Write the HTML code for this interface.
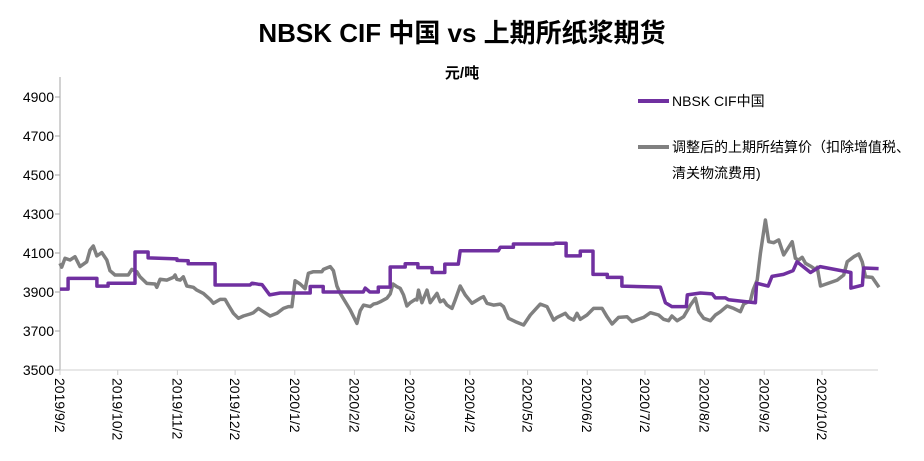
<!DOCTYPE html>
<html><head><meta charset="utf-8">
<style>
html,body{margin:0;padding:0;background:#fff;}
body{width:924px;height:456px;overflow:hidden;font-family:"Liberation Sans","Noto Sans CJK SC",sans-serif;}
svg text{font-family:"Liberation Sans","Noto Sans CJK SC",sans-serif;}
</style></head>
<body>
<svg id="chart" width="924" height="456" xmlns="http://www.w3.org/2000/svg">
<text x="462" y="42" text-anchor="middle" font-size="26" font-weight="bold" fill="#000">NBSK CIF 中国 vs 上期所纸浆期货</text>
<text x="462" y="78" text-anchor="middle" font-size="15" font-weight="bold" fill="#000">元/吨</text>
<g id="axes"></g>
<g id="series"></g>
<g>
<line x1="638" y1="101" x2="669" y2="101" stroke="#7030A0" stroke-width="4"/>
<text x="672" y="106" font-size="14" fill="#000">NBSK CIF中国</text>
<line x1="638" y1="147" x2="669" y2="147" stroke="#808080" stroke-width="4"/>
<text x="672" y="152" font-size="14" fill="#000">调整后的上期所结算价（扣除增值税、</text>
<text x="672" y="178" font-size="14" fill="#000">清关物流费用)</text>
</g>
</svg>
<script>
// Days since 2019/9/2
const nbskDays=[0,4.2,4.2,19.2,19.2,25,25,39,39,45.8,45.8,60.8,60.8,66.6,66.6,80.6,80.6,98.8,99.8,103,105,109,114.4,130,130,136.8,136.8,157.6,158.6,161,165.4,165.4,171.6,171.6,179.4,179.4,186,186,193.4,193.4,200,200,207,208,227.8,228.8,235.6,235.6,256.4,257.4,263,263,270.4,270.4,277,277,284.4,284.4,292,292,312,314.6,318,325.5,326,332.8,339,340.6,345.8,347.4,361.4,362,368,370,376,381,383,390,395,411,411,417,417.6,425.4];
const nbskValues=[3915,3915,3970,3970,3930,3930,3945,3945,4105,4105,4075,4070,4062,4060,4045,4045,3936,3936,3945,3940,3938,3885,3895,3895,3928,3928,3900,3900,3920,3900,3900,3925,3925,4028,4028,4045,4045,4025,4025,4000,4000,4043,4043,4112,4112,4130,4130,4146,4146,4150,4150,4085,4085,4110,4110,3990,3990,3975,3975,3930,3925,3845,3825,3825,3885,3895,3890,3870,3870,3860,3845,3945,3930,3980,3990,4010,4055,4000,4030,4000,3920,3935,4023,4020];
const shfeDays=[0,0.9,2.6,5.2,7.8,10.4,13.9,15.6,17.3,19.1,21.7,24.3,26,28.6,35.5,37.3,39.9,41.6,45.1,49.4,50.3,52,55.5,58.9,59.8,60.7,62.4,64.1,65.9,69.3,71.1,74.5,78,79.7,83.2,85.8,87.5,90.1,92.7,95.3,98.8,100.5,103.1,105.7,109.2,112.7,116.1,118.7,120.5,122.2,124.8,127.4,129.1,131.7,136.1,136.9,140.4,142.1,143.9,145.6,150.8,154.3,156,157.7,161.2,162.9,164.7,166.4,169.9,171.6,173,175.1,176.8,178.5,180.3,182,184.6,185.5,186.3,188.1,190.7,192.4,194.1,195.9,197.6,199.3,201.1,203.7,205.4,208,210.6,214.1,218.4,220.1,221.9,225.3,228.8,230.5,233.1,236.6,240.9,244.4,249.6,253.1,254.8,256.5,258.3,262.6,264.3,266.9,268.7,270.4,273.9,277.3,281.7,284.3,286.9,290.3,294.7,297.3,303.3,306.8,311.1,313.7,316.3,318,320.7,324.1,327.6,330.2,331.9,334.5,338,340.6,343.2,346.7,350.1,353.6,355.3,358.8,360.2,362.3,364,366.6,368.3,370.9,373.5,376.1,380.5,382.2,383.9,385.7,387.4,390,392.6,393.5,395.2,403.9,407.3,409.1,412.5,415.1,416.9,418.6,422.1,425.6];
const shfeValues=[4047,4027,4073,4064,4081,4030,4055,4115,4136,4085,4102,4064,4009,3987,3987,4016,4004,3978,3944,3941,3924,3965,3961,3975,3987,3965,3961,3978,3931,3924,3910,3893,3862,3842,3862,3862,3833,3791,3765,3777,3787,3794,3816,3799,3777,3791,3816,3825,3825,3958,3941,3917,3996,4004,4004,4016,4030,4009,3931,3893,3808,3739,3804,3833,3825,3838,3842,3850,3868,3890,3941,3927,3919,3885,3828,3845,3862,3859,3910,3845,3910,3845,3868,3893,3850,3859,3833,3816,3859,3931,3885,3842,3868,3876,3842,3833,3838,3825,3765,3748,3731,3782,3838,3825,3791,3756,3770,3791,3770,3756,3791,3760,3782,3816,3816,3773,3736,3770,3773,3748,3770,3794,3782,3760,3753,3777,3753,3773,3833,3868,3799,3765,3753,3782,3799,3828,3816,3799,3838,3855,3910,3961,4098,4269,4158,4153,4167,4090,4158,4073,4064,4078,4047,4033,4016,4027,3931,3961,3987,4055,4081,4095,4055,3978,3975,3924];
const yTicks=[3500,3700,3900,4100,4300,4500,4700,4900];
const xTickLabels=["2019/9/2","2019/10/2","2019/11/2","2019/12/2","2020/1/2","2020/2/2","2020/3/2","2020/4/2","2020/5/2","2020/6/2","2020/7/2","2020/8/2","2020/9/2","2020/10/2"];
const xTickDays=[0,30,61,91,122,153,182,213,243,274,304,335,366,396];

const X0=60,X1=878,DAYMAX=425.4,Y0=370,Y1=97,VMIN=3500,VMAX=4900;
const xs=d=>X0+d*(822-60)/396;
const ys=v=>Y0-(v-VMIN)*(Y0-Y1)/(VMAX-VMIN);
const NS="http://www.w3.org/2000/svg";
const axes=document.getElementById('axes'), series=document.getElementById('series');
function mk(tag,attrs,parent){const e=document.createElementNS(NS,tag);for(const k in attrs)e.setAttribute(k,attrs[k]);parent.appendChild(e);return e;}

let yl=mk('line',{x1:X0,y1:77,x2:X0,y2:Y0,stroke:'#a6a6a6','stroke-width':1},axes);


let xl=mk('line',{x1:X0,y1:Y0,x2:X1,y2:Y0,stroke:'#d0d0d0','stroke-width':1},axes);



yTicks.forEach(v=>{
  const y=ys(v);
  const t=mk('line',{x1:X0-5,y1:y,x2:X0,y2:y,stroke:'#a6a6a6'},axes);
  
  
  const tx=mk('text',{x:X0-6,y:y+5,'text-anchor':'end','font-size':14,fill:'#000'},axes);
  tx.textContent=v;
  
  
});
xTickDays.forEach((d,i)=>{
  const x=xs(d);
  const t=mk('line',{x1:x,y1:Y0,x2:x,y2:Y0+5,stroke:'#d0d0d0'},axes);
  
  
  const tx=mk('text',{x:0,y:0,'font-size':14,fill:'#000',transform:`translate(${x-5},378) rotate(90)`},axes);
  tx.textContent=xTickLabels[i];
  
  
});

function path(days,vals){return days.map((d,i)=>(i?'L':'M')+xs(d).toFixed(1)+','+ys(vals[i]).toFixed(1)).join(' ');}
const g=mk('path',{d:path(shfeDays,shfeValues),fill:'none',stroke:'#808080','stroke-width':3.5,'stroke-linejoin':'round'},series);


const p=mk('path',{d:path(nbskDays,nbskValues),fill:'none',stroke:'#7030A0','stroke-width':3.5,'stroke-linejoin':'round'},series);


</script>
</body></html>
